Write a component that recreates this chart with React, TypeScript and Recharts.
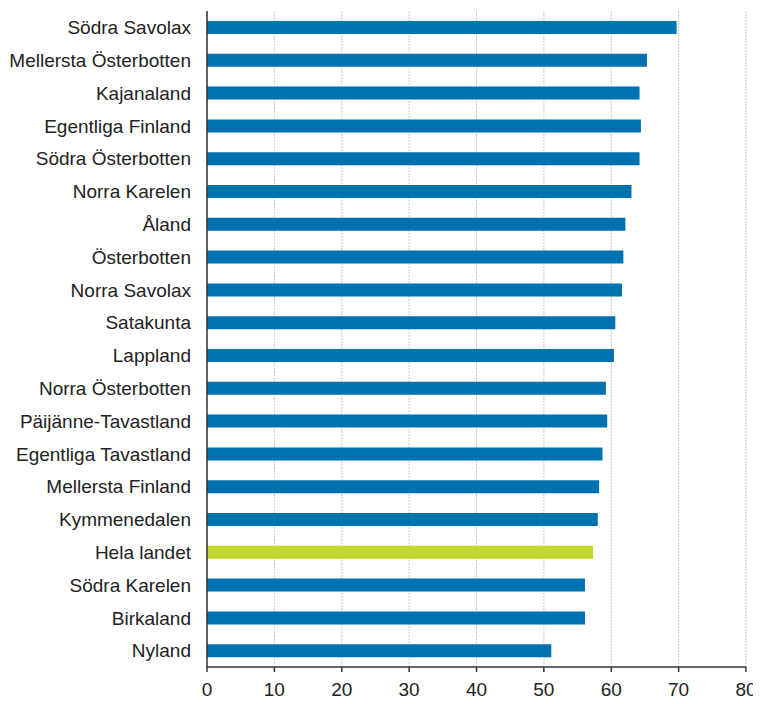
import React from "react";
import { BarChart, Bar, XAxis, YAxis, CartesianGrid, Cell } from "recharts";

const regions = [
  "Södra Savolax",
  "Mellersta Österbotten",
  "Kajanaland",
  "Egentliga Finland",
  "Södra Österbotten",
  "Norra Karelen",
  "Åland",
  "Österbotten",
  "Norra Savolax",
  "Satakunta",
  "Lappland",
  "Norra Österbotten",
  "Päijänne-Tavastland",
  "Egentliga Tavastland",
  "Mellersta Finland",
  "Kymmenedalen",
  "Hela landet",
  "Södra Karelen",
  "Birkaland",
  "Nyland",
];

const values = [69.7, 65.3, 64.2, 64.4, 64.2, 63.0, 62.1, 61.8, 61.6, 60.6, 60.4, 59.2, 59.4, 58.7, 58.2, 58.0, 57.3, 56.1, 56.1, 51.1];

const xTicks = [0, 10, 20, 30, 40, 50, 60, 70, 80];
const highlight = "Hela landet";

const data = regions.map((name, i) => ({ name, value: values[i] }));

const FONT = "'Liberation Sans', Arial, sans-serif";

export default function App() {
  return (
    <BarChart
      width={753}
      height={696}
      data={data}
      layout="vertical"
      margin={{ top: 3, right: 15, left: 0, bottom: 7 }}
      barCategoryGap={0}
    >
      <CartesianGrid
        horizontal={false}
        vertical={true}
        stroke="#c8c8c8"
        strokeDasharray="2 1"
      />
      <XAxis
        type="number"
        domain={[0, 80]}
        ticks={xTicks}
        interval={0}
        height={30}
        axisLine={{ stroke: "#333", strokeWidth: 1.5 }}
        tickLine={{ stroke: "#333", strokeWidth: 1.5 }}
        tickSize={5}
        tickMargin={11}
        tick={{ fill: "#222", fontSize: 19, fontFamily: FONT }}
      />
      <YAxis
        type="category"
        dataKey="name"
        width={199}
        interval={0}
        axisLine={{ stroke: "#333", strokeWidth: 1.5 }}
        tickLine={false}
        tickSize={8}
        tickMargin={8}
        tick={{ fill: "#222", fontSize: 19, fontFamily: FONT }}
      />
      <Bar dataKey="value" barSize={13} isAnimationActive={false}>
        {data.map((d) => (
          <Cell key={d.name} fill={d.name === highlight ? "#c2d82e" : "#0072b0"} />
        ))}
      </Bar>
    </BarChart>
  );
}
